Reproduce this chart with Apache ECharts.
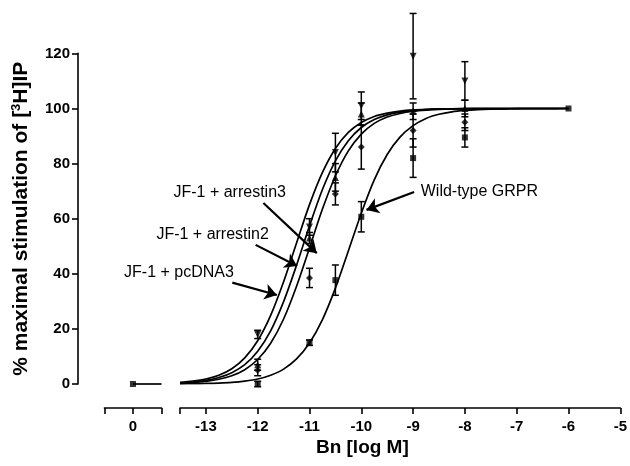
<!DOCTYPE html>
<html><head><meta charset="utf-8">
<script src="https://cdn.jsdelivr.net/npm/echarts@6/dist/echarts.min.js"></script>
<style>html,body{margin:0;padding:0;background:#fff}#c{width:630px;height:466px}</style>
</head><body><div id="c"></div>
<script>
// ---- data ----
const xTickLabels = [-13, -12, -11, -10, -9, -8, -7, -6, -5];
const yTicks = [0, 20, 40, 60, 80, 100, 120];

// measured points (log M) and % response with SEM
const doseX = [-12, -11, -10.5, -10, -9, -8];
const pcdna3Y = [18, 57, 84, 101, 119, 110];
const pcdna3E = [1.5, 3, 7, 5, 15.5, 7];
const arr2Y = [7, 53, 75, 98, 99, 100];
const arr2E = [2, 2, 5, 4, 3, 3];
const arr3Y = [5, 38.5, 69, 86, 92, 95];
const arr3E = [2, 3.5, 4, 8, 6, 3];
const wtX = [-12, -11, -10.5, -10, -9, -8, -6];
const wtY = [0, 15, 37.7, 60.7, 82, 89.5, 100];
const wtE = [1, 1, 5.5, 5.5, 7, 3.5, 0];

// basal (no agonist) shown at 0 on the broken axis
const basalX = [0, 0.55];
const basalY = [0, 0];

// fitted curves
const curveX = [-13.5, -13.25, -13, -12.75, -12.5, -12.25, -12, -11.75, -11.5, -11.25, -11, -10.75, -10.5, -10.25, -10,
  -9.75, -9.5, -9.25, -9, -8.75, -8.5, -8.25, -8, -7.75, -7.5, -7.25, -7, -6.75, -6.5, -6.25, -6];
const pcdna3Curve = [0.59, 1.04, 1.83, 3.2, 5.56, 9.5, 15.7, 24.9, 37.1, 51.2, 65.1, 76.8, 85.5, 91.3, 94.9,
  97.1, 98.3, 99.05, 99.47, 99.7, 99.83, 99.9, 99.95, 99.97, 99.98, 99.99, 100, 100, 100, 100, 100];
const arr2Curve = [0.43, 0.75, 1.33, 2.34, 4.1, 7.0, 11.9, 19.3, 29.9, 43.1, 57.4, 70.6, 81.0, 88.3, 93.1,
  96.0, 97.7, 98.7, 99.26, 99.58, 99.77, 99.87, 99.93, 99.96, 99.98, 99.99, 100, 100, 100, 100, 100];
const arr3Curve = [0.31, 0.55, 0.97, 1.71, 3.0, 5.2, 8.9, 14.8, 23.6, 35.5, 49.4, 63.5, 75.5, 84.6, 90.7,
  94.6, 96.9, 98.2, 99.0, 99.43, 99.68, 99.82, 99.9, 99.94, 99.97, 99.98, 99.99, 100, 100, 100, 100];
const wtCurve = [0.07, 0.11, 0.2, 0.35, 0.6, 1.06, 1.8, 3.2, 5.4, 9.1, 14.9, 23.4, 34.8, 48.3, 62,
  74.1, 83.3, 89.7, 93.8, 96.4, 97.9, 98.8, 99.3, 99.6, 99.77, 99.87, 99.93, 99.96, 99.98, 99.99, 100];

// annotations: label, text centre, arrow start, arrow tip (data coords)
const labels = ['JF-1 + arrestin3', 'JF-1 + arrestin2', 'JF-1 + pcDNA3', 'Wild-type GRPR'];
const labelPos = [[-12.54, 69.3], [-12.87, 54.1], [-13.52, 40.6], [-7.72, 70]];
const arrowFrom = [[-11.89, 65.7], [-12.04, 50.5], [-12.49, 36.8], [-8.98, 69.7]];
const arrowTo = [[-10.86, 47.5], [-11.24, 42.8], [-11.63, 32.3], [-9.90, 63.2]];

const FONT = "'Liberation Sans', Arial, Helvetica, sans-serif";
const chart = echarts.init(document.getElementById('c'), null, {renderer: 'canvas'});

function pairs(xs, ys) { return xs.map((x, i) => [x, ys[i]]); }
function errs(xs, ys, es) {
  const out = [];
  xs.forEach((x, i) => { if (es[i] > 0) out.push([x, ys[i] - es[i], ys[i] + es[i]]); });
  return out;
}
function errRender(params, api) {
  const x = api.value(0), lo = api.value(1), hi = api.value(2);
  const p1 = api.coord([x, hi]), p2 = api.coord([x, lo]);
  const w = 3.5;
  const style = {stroke: '#000', lineWidth: 1.5, fill: null};
  return {type: 'group', children: [
    {type: 'line', shape: {x1: p1[0], y1: p1[1], x2: p2[0], y2: p2[1]}, style: style},
    {type: 'line', shape: {x1: p1[0] - w, y1: p1[1], x2: p1[0] + w, y2: p1[1]}, style: style},
    {type: 'line', shape: {x1: p2[0] - w, y1: p2[1], x2: p2[0] + w, y2: p2[1]}, style: style}
  ]};
}

const lineStyle = {color: '#000', width: 1.7};
function curveSeries(name, ys, extra) {
  return Object.assign({
    name: name, type: 'line', xAxisIndex: 1, yAxisIndex: 1,
    data: pairs(curveX, ys), smooth: 0.3,
    showSymbol: false, symbol: 'none', lineStyle: lineStyle, silent: true, z: 2
  }, extra || {});
}
function pointSeries(name, xs, ys, symbol, size, rotate) {
  return {name: name + ' pts', type: 'scatter', xAxisIndex: 1, yAxisIndex: 1,
    data: pairs(xs, ys), symbol: symbol, symbolSize: size, symbolRotate: rotate || 0,
    itemStyle: {color: '#000'}, silent: true, z: 4, clip: false};
}
function errSeries(name, xs, ys, es) {
  return {name: name + ' err', type: 'custom', xAxisIndex: 1, yAxisIndex: 1,
    data: errs(xs, ys, es), renderItem: errRender, encode: {x: 0, y: [1, 2]},
    clip: false, silent: true, z: 3};
}

const gridTop = 53.4, gridBottom = 82;
const axisLineStyle = {color: '#000', width: 1.6};
const tickLabel = {color: '#000', fontFamily: FONT, fontWeight: 'bold', fontSize: 15};

const option = {
  animation: false,
  backgroundColor: '#fff',
  grid: [
    {left: 104.4, width: 57.1, top: gridTop, bottom: gridBottom},
    {left: 180, width: 440.3, top: gridTop, bottom: gridBottom}
  ],
  xAxis: [
    {type: 'value', gridIndex: 0, min: -0.55, max: 0.55, position: 'bottom', offset: 24,
     axisLine: {show: true, onZero: false, lineStyle: axisLineStyle},
     axisTick: {show: true, length: 6, lineStyle: axisLineStyle, customValues: [-0.55, 0, 0.55]},
     axisLabel: Object.assign({margin: 11, customValues: [0]}, tickLabel),
     splitLine: {show: false}},
    {type: 'value', gridIndex: 1, min: -13.5, max: -5, position: 'bottom', offset: 24,
     axisLine: {show: true, onZero: false, lineStyle: axisLineStyle},
     axisTick: {show: true, length: 6, lineStyle: axisLineStyle,
       customValues: [-13.5].concat(xTickLabels)},
     axisLabel: Object.assign({margin: 11, customValues: xTickLabels}, tickLabel),
     splitLine: {show: false}}
  ],
  yAxis: [
    {type: 'value', gridIndex: 0, min: 0, max: 120, interval: 20, position: 'left', offset: 26.4,
     axisLine: {show: true, onZero: false, lineStyle: axisLineStyle},
     axisTick: {show: true, length: 6, lineStyle: axisLineStyle, customValues: yTicks},
     axisLabel: Object.assign({margin: 8, customValues: yTicks}, tickLabel),
     splitLine: {show: false},
     name: '% maximal stimulation of [{sup|3}H]IP', nameLocation: 'middle', nameGap: 45,
     nameTextStyle: {color: '#000', fontFamily: FONT, fontWeight: 'bold', fontSize: 21,
       rich: {sup: {fontFamily: FONT, fontWeight: 'bold', fontSize: 13, padding: [0, 0, 10, 0]}}}},
    {type: 'value', gridIndex: 1, min: 0, max: 120, interval: 20, show: false}
  ],
  series: [
    // basal panel
    {name: 'basal line', type: 'line', xAxisIndex: 0, yAxisIndex: 0, data: pairs(basalX, basalY),
     showSymbol: false, symbol: 'none', lineStyle: lineStyle, silent: true, clip: false},
    {name: 'basal pt', type: 'scatter', xAxisIndex: 0, yAxisIndex: 0, data: [[basalX[0], basalY[0]]],
     symbol: 'rect', symbolSize: 6, itemStyle: {color: '#000'}, silent: true, clip: false},
    // curves
    curveSeries('JF-1 + pcDNA3', pcdna3Curve),
    curveSeries('JF-1 + arrestin2', arr2Curve),
    curveSeries('JF-1 + arrestin3', arr3Curve),
    curveSeries('Wild-type GRPR', wtCurve, {
      markLine: {silent: true, symbol: ['none', 'arrow'], symbolSize: 12, animation: false,
        label: {show: false}, lineStyle: {color: '#000', width: 2.2, type: 'solid'},
        data: arrowFrom.map((f, i) => [{coord: f}, {coord: arrowTo[i]}])}
    }),
    // error bars
    errSeries('JF-1 + pcDNA3', doseX, pcdna3Y, pcdna3E),
    errSeries('JF-1 + arrestin2', doseX, arr2Y, arr2E),
    errSeries('JF-1 + arrestin3', doseX, arr3Y, arr3E),
    errSeries('Wild-type GRPR', wtX, wtY, wtE),
    // points
    pointSeries('JF-1 + pcDNA3', doseX, pcdna3Y, 'triangle', 7, 180),
    pointSeries('JF-1 + arrestin2', doseX, arr2Y, 'triangle', 7, 0),
    pointSeries('JF-1 + arrestin3', doseX, arr3Y, 'diamond', 7, 0),
    pointSeries('Wild-type GRPR', wtX, wtY, 'rect', 6, 0)
  ]
};
chart.setOption(option);

// annotation texts and x-axis title positioned through the axes
const finder = {xAxisIndex: 1, yAxisIndex: 1};
const graphics = labels.map((t, i) => {
  const p = chart.convertToPixel(finder, labelPos[i]);
  return {type: 'text', x: p[0], y: p[1], silent: true,
    style: {text: t, fill: '#000', font: '16px ' + FONT, textAlign: 'center', textVerticalAlign: 'middle'}};
});
const leftEnd = chart.convertToPixel({xAxisIndex: 0}, -0.55);
const rightEnd = chart.convertToPixel({xAxisIndex: 1}, -5);
const axisY = chart.convertToPixel({yAxisIndex: 1}, 0) + 24;
graphics.push({type: 'text', x: (leftEnd + rightEnd) / 2, y: axisY + 40, silent: true,
  style: {text: 'Bn [log M]', fill: '#000', font: 'bold 19px ' + FONT, textAlign: 'center', textVerticalAlign: 'middle'}});
chart.setOption({graphic: graphics});
</script>
</body></html>
